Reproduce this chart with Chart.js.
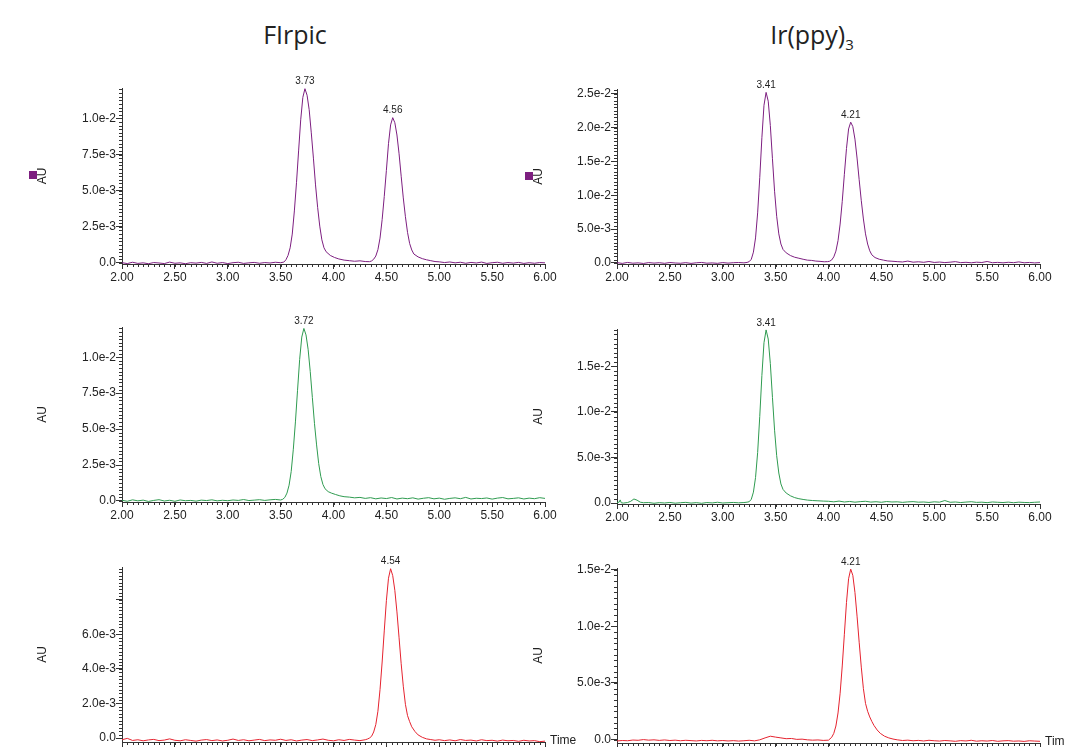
<!DOCTYPE html>
<html>
<head>
<meta charset="utf-8">
<script src="https://cdn.jsdelivr.net/npm/chart.js@4.4.1/dist/chart.umd.min.js"></script>
<style>
  body { margin: 0; background: #fff; width: 1065px; height: 747px; overflow: hidden; position: relative; }
  canvas { position: absolute; }
  .title { position: absolute; font-family: "Open Sans", "Noto Sans", sans-serif; font-size: 25px; color: #222; transform: translateX(-50%); white-space: nowrap; line-height: 1; }
  .title sub { font-size: 15px; vertical-align: -6px; }
</style>
</head>
<body>
<div class="title" style="left:295px; top:22px">FIrpic</div>
<div class="title" style="left:812px; top:22px">Ir(ppy)<sub>3</sub></div>
<canvas id="a"></canvas>
<canvas id="b"></canvas>
<canvas id="c"></canvas>
<canvas id="d"></canvas>
<canvas id="e"></canvas>
<canvas id="f"></canvas>
<script>
// retention time (min) and absorbance (mAU)

// FIrpic, top trace
const aTime = [2.00,2.05,2.10,2.15,2.20,2.25,2.30,2.35,2.40,2.45,2.50,2.55,2.60,2.65,2.70,2.75,2.80,2.85,2.90,2.95,3.00,3.05,3.10,3.15,3.20,3.25,3.30,3.35,3.40,3.45,3.50,
  3.53,3.55,3.57,3.59,3.61,3.63,3.65,3.67,3.69,3.71,3.73,3.75,3.77,3.79,3.81,3.83,3.85,3.87,3.89,3.91,3.93,3.97,4.01,4.05,4.10,4.15,4.20,4.25,4.30,4.34,
  4.36,4.38,4.40,4.42,4.44,4.46,4.48,4.50,4.52,4.54,4.56,4.58,4.60,4.62,4.64,4.66,4.68,4.70,4.72,4.74,4.76,4.80,4.84,4.88,4.92,4.96,
  5.00,5.05,5.10,5.15,5.20,5.25,5.30,5.35,5.40,5.45,5.50,5.55,5.60,5.65,5.70,5.75,5.80,5.85,5.90,5.95,6.00];
const aMilliAU = [0.02,-0.04,0.05,-0.03,0.01,-0.05,0.03,0.00,-0.04,0.06,-0.02,0.01,-0.05,0.02,-0.01,0.04,-0.03,0.07,-0.02,0.03,-0.04,0.02,0.05,-0.03,0.01,0.04,-0.02,0.03,0.00,0.05,0.02,
  0.06,0.22,0.52,1.05,2.0,3.6,5.55,7.75,9.9,11.45,12.05,11.6,10.6,9.0,7.25,5.4,3.85,2.55,1.6,1.05,0.78,0.52,0.38,0.28,0.2,0.16,0.12,0.15,0.1,0.09,
  0.14,0.26,0.48,0.92,1.72,3.0,4.6,6.4,8.25,9.55,10.05,9.7,8.85,7.55,6.0,4.5,3.2,2.12,1.35,0.9,0.62,0.42,0.3,0.22,0.16,0.1,
  0.08,0.03,0.07,0.01,0.05,-0.02,0.04,0.00,0.06,-0.03,0.02,0.05,-0.02,0.03,-0.01,0.04,-0.03,0.02,-0.02,0.03,0.01];
const aPeaks = [3.73, 4.56];
const aYTicks = [0, 0.0025, 0.005, 0.0075, 0.01];
const aYLabels = ['0.0', '2.5e-3', '5.0e-3', '7.5e-3', '1.0e-2'];

// FIrpic, middle trace
const bTime = [2.00,2.05,2.10,2.15,2.20,2.25,2.30,2.35,2.40,2.45,2.50,2.55,2.60,2.65,2.70,2.75,2.80,2.85,2.90,2.95,3.00,3.05,3.10,3.15,3.20,3.25,3.30,3.35,3.40,3.45,3.50,
  3.52,3.54,3.56,3.58,3.60,3.62,3.64,3.66,3.68,3.70,3.72,3.74,3.76,3.78,3.80,3.82,3.84,3.86,3.88,3.90,3.92,3.95,3.98,4.02,4.06,4.10,
  4.15,4.20,4.25,4.30,4.35,4.40,4.45,4.50,4.55,4.60,4.65,4.70,4.75,4.80,4.85,4.90,4.95,5.00,5.05,5.10,5.15,5.20,5.25,5.30,5.35,5.40,5.45,5.50,5.55,5.60,5.65,5.70,5.75,5.80,5.85,5.90,5.95,6.00];
const bMilliAU = [0.05,-0.02,0.08,0.01,0.06,-0.03,0.04,0.09,0.0,0.05,-0.02,0.07,0.02,0.04,-0.01,0.06,0.03,0.08,0.01,0.05,0.02,0.07,0.04,0.1,0.03,0.06,0.09,0.04,0.08,0.11,0.07,
  0.12,0.25,0.55,1.1,2.05,3.6,5.5,7.7,9.85,11.4,12.0,11.55,10.55,9.0,7.2,5.4,3.9,2.6,1.7,1.15,0.85,0.65,0.55,0.45,0.36,0.3,
  0.27,0.22,0.25,0.18,0.23,0.15,0.21,0.17,0.24,0.14,0.2,0.16,0.22,0.13,0.19,0.23,0.15,0.2,0.12,0.18,0.22,0.16,0.25,0.14,0.19,0.17,0.21,0.13,0.2,0.24,0.15,0.18,0.22,0.14,0.2,0.16,0.23,0.18];
const bPeaks = [3.72];
const bYTicks = [0, 0.0025, 0.005, 0.0075, 0.01];
const bYLabels = ['0.0', '2.5e-3', '5.0e-3', '7.5e-3', '1.0e-2'];

// FIrpic, bottom trace
const cTime = [2.00,2.05,2.10,2.15,2.20,2.25,2.30,2.35,2.40,2.45,2.50,2.55,2.60,2.65,2.70,2.75,2.80,2.85,2.90,2.95,3.00,3.05,3.10,3.15,3.20,3.25,3.30,3.35,3.40,3.45,3.50,3.55,3.60,3.65,3.70,3.75,3.80,3.85,3.90,3.95,4.00,4.05,4.10,4.15,4.20,4.25,4.30,
  4.32,4.34,4.36,4.38,4.40,4.42,4.44,4.46,4.48,4.50,4.52,4.54,4.56,4.58,4.60,4.62,4.64,4.66,4.68,4.70,4.72,4.74,4.77,4.80,4.84,4.88,
  4.92,4.96,5.00,5.05,5.10,5.15,5.20,5.25,5.30,5.35,5.40,5.45,5.50,5.55,5.60,5.65,5.70,5.75,5.80,5.85,5.90,5.95,6.00];
const cMilliAU = [-0.1,-0.02,-0.14,-0.1,-0.16,-0.11,-0.08,-0.15,-0.12,-0.05,-0.13,-0.16,-0.1,-0.14,-0.18,-0.12,-0.09,-0.15,-0.11,-0.17,-0.13,-0.06,-0.14,-0.1,-0.16,-0.12,-0.08,-0.15,-0.11,-0.13,-0.07,-0.14,-0.1,-0.17,-0.12,-0.09,-0.15,-0.11,-0.06,-0.13,-0.16,-0.1,-0.14,-0.08,-0.12,-0.15,-0.1,
  -0.06,0.0,0.1,0.35,0.78,1.55,2.8,4.4,6.2,7.95,9.25,9.8,9.4,8.55,7.3,5.8,4.3,3.0,1.95,1.3,0.95,0.65,0.38,0.18,0.04,-0.05,
  -0.09,-0.13,-0.1,-0.15,-0.11,-0.16,-0.09,-0.14,-0.12,-0.17,-0.1,-0.15,-0.13,-0.18,-0.12,-0.16,-0.14,-0.19,-0.13,-0.17,-0.15,-0.21,-0.18];
const cPeaks = [4.54];
const cYTicks = [0, 0.002, 0.004, 0.006, 0.008];
const cYLabels = ['0.0', '2.0e-3', '4.0e-3', '6.0e-3', ''];

// Ir(ppy)3, top trace
const dTime = [2.00,2.05,2.10,2.15,2.20,2.25,2.30,2.35,2.40,2.45,2.50,2.55,2.60,2.65,2.70,2.75,2.80,2.85,2.90,2.95,3.00,3.05,3.10,3.15,3.20,3.23,
  3.25,3.27,3.29,3.31,3.33,3.35,3.37,3.39,3.41,3.43,3.45,3.47,3.49,3.51,3.53,3.55,3.57,
  3.60,3.64,3.68,3.72,3.76,3.80,3.84,3.88,3.92,3.96,3.99,
  4.01,4.03,4.05,4.07,4.09,4.11,4.13,4.15,4.17,4.19,4.21,4.23,4.25,4.27,4.29,4.31,4.33,4.35,4.37,4.39,4.41,
  4.44,4.48,4.52,4.56,4.60,
  4.65,4.70,4.75,4.80,4.85,4.90,4.95,5.00,5.05,5.10,5.15,5.20,5.25,5.30,5.35,5.40,5.45,5.50,5.55,5.60,5.65,5.70,5.75,5.80,5.85,5.90,5.95,6.00];
const dMilliAU = [0.05,-0.06,0.08,-0.03,0.02,-0.07,0.06,-0.02,0.04,-0.05,0.07,0.0,-0.04,0.05,-0.06,0.03,0.08,-0.03,0.01,-0.05,0.06,-0.02,0.04,0.07,0.02,0.08,
  0.2,0.55,1.6,3.7,7.4,12.6,18.5,23.3,25.2,23.9,20.3,15.4,10.6,6.9,4.3,2.8,2.0,
  1.5,1.1,0.85,0.7,0.55,0.42,0.38,0.28,0.24,0.18,0.2,
  0.25,0.45,0.9,1.75,3.3,5.75,9.1,13.1,16.9,19.8,20.8,20.15,18.3,15.5,12.3,9.2,6.5,4.3,2.8,1.8,1.2,
  0.8,0.55,0.42,0.3,0.26,
  0.2,0.15,0.28,0.12,0.18,0.1,0.22,0.08,0.14,0.06,0.12,0.2,0.05,0.1,0.03,0.12,0.07,0.22,0.04,0.09,0.02,0.1,0.05,0.16,0.03,0.08,0.01,0.06];
const dPeaks = [3.41, 4.21];
const dYTicks = [0, 0.005, 0.01, 0.015, 0.02, 0.025];
const dYLabels = ['0.0', '5.0e-3', '1.0e-2', '1.5e-2', '2.0e-2', '2.5e-2'];

// Ir(ppy)3, middle trace
const eTime = [2.00,2.02,2.03,2.04,2.06,2.10,2.13,2.16,2.19,2.22,2.25,
  2.30,2.35,2.40,2.45,2.50,2.55,2.60,2.65,2.70,2.75,2.80,2.85,2.90,2.95,3.00,3.05,3.10,3.15,3.20,3.23,
  3.25,3.27,3.29,3.31,3.33,3.35,3.37,3.39,3.41,3.43,3.45,3.47,3.49,3.51,3.53,3.55,3.57,
  3.60,3.64,3.68,3.72,3.76,3.80,3.85,3.90,3.95,
  4.00,4.05,4.10,4.15,4.20,4.25,4.30,4.35,4.40,4.45,4.50,4.55,4.60,4.65,4.70,4.75,4.80,4.85,4.90,4.95,5.00,5.05,5.10,5.15,5.20,5.25,5.30,5.35,5.40,5.45,5.50,5.55,5.60,5.65,5.70,5.75,5.80,5.85,5.90,5.95,6.00];
const eMilliAU = [0.05,0.1,0.35,0.04,0.0,0.06,0.2,0.45,0.32,0.1,0.04,
  0.06,-0.02,0.05,0.01,0.07,-0.01,0.04,0.08,0.0,0.05,-0.02,0.06,0.02,0.09,0.01,0.04,0.07,0.03,0.06,0.1,
  0.15,0.42,1.2,2.8,5.55,9.5,14.0,17.6,19.0,18.0,15.3,11.6,8.0,5.2,3.3,2.1,1.5,
  1.1,0.8,0.6,0.48,0.4,0.33,0.28,0.25,0.22,
  0.2,0.14,0.22,0.12,0.18,0.1,0.16,0.2,0.11,0.15,0.09,0.17,0.12,0.14,0.08,0.13,0.16,0.1,0.12,0.07,0.14,0.1,0.28,0.09,0.12,0.06,0.11,0.15,0.08,0.1,0.05,0.12,0.09,0.06,0.11,0.04,0.1,0.07,0.05,0.09,0.12];
const ePeaks = [3.41];
const eYTicks = [0, 0.005, 0.01, 0.015];
const eYLabels = ['0.0', '5.0e-3', '1.0e-2', '1.5e-2'];

// Ir(ppy)3, bottom trace
const fTime = [2.00,2.05,2.10,2.15,2.20,2.25,2.30,2.35,2.40,2.45,2.50,2.55,2.60,2.65,2.70,2.75,2.80,2.85,2.90,2.95,3.00,3.05,3.10,3.15,3.20,3.25,3.30,3.35,3.40,3.45,3.50,3.55,3.60,3.65,3.70,3.75,3.80,3.85,3.90,3.95,4.00,
  4.03,4.05,4.07,4.09,4.11,4.13,4.15,4.17,4.19,4.21,4.23,4.25,4.27,4.29,4.31,4.33,4.35,4.37,4.39,4.41,4.43,
  4.46,4.49,4.53,4.57,4.61,
  4.65,4.70,4.75,4.80,4.85,4.90,4.95,5.00,5.05,5.10,5.15,5.20,5.25,5.30,5.35,5.40,5.45,5.50,5.55,5.60,5.65,5.70,5.75,5.80,5.85,5.90,5.95,6.00];
const fMilliAU = [-0.12,-0.08,-0.1,-0.04,-0.06,0.0,-0.05,-0.02,-0.07,-0.03,-0.08,-0.05,-0.1,-0.06,-0.09,-0.12,-0.07,-0.1,-0.06,-0.11,
  -0.08,-0.12,-0.09,-0.13,-0.1,-0.06,-0.11,-0.02,0.15,0.3,0.22,0.15,0.08,0.1,0.02,0.04,-0.02,-0.05,-0.03,-0.07,-0.05,
  0.2,0.55,1.2,2.35,4.1,6.5,9.3,12.1,14.2,15.05,14.5,13.0,10.9,8.6,6.4,4.5,3.2,2.5,2.0,1.6,1.25,
  0.85,0.55,0.3,0.15,0.05,
  -0.02,-0.08,-0.05,-0.1,-0.07,-0.12,-0.06,-0.1,-0.13,-0.08,-0.11,-0.15,-0.09,-0.12,-0.06,-0.14,-0.1,-0.13,-0.08,-0.15,-0.11,-0.09,-0.14,-0.12,-0.16,-0.1,-0.13,-0.15];
const fPeaks = [4.21];
const fYTicks = [0, 0.005, 0.01, 0.015];
const fYLabels = ['0.0', '5.0e-3', '1.0e-2', '1.5e-2'];

const xTicks = [2.0, 2.5, 3.0, 3.5, 4.0, 4.5, 5.0, 5.5, 6.0];

const PURPLE = '#7d1f80';
const GREEN = '#2f9b50';
const RED = '#e5232f';
const AXIS = '#333';
const TEXT = '#222';
const FONT = '"Liberation Sans", Arial, sans-serif';
const PAD_TOP = 22;
const X_AXIS_H = 30;

const panels = [
  { id: 'a', t: aTime, v: aMilliAU, peaks: aPeaks, yTicks: aYTicks, yLabels: aYLabels, color: PURPLE, yMin: -0.07, yMax: 12.1, minor: 0.25, col: 0, top: 88, bottom: 264, marker: true },
  { id: 'b', t: bTime, v: bMilliAU, peaks: bPeaks, yTicks: bYTicks, yLabels: bYLabels, color: GREEN, yMin: -0.07, yMax: 12.1, minor: 0.25, col: 0, top: 327, bottom: 502 },
  { id: 'c', t: cTime, v: cMilliAU, peaks: cPeaks, yTicks: cYTicks, yLabels: cYLabels, color: RED, yMin: -0.23, yMax: 9.9, minor: 0.2, col: 0, top: 567, bottom: 742, time: true },
  { id: 'd', t: dTime, v: dMilliAU, peaks: dPeaks, yTicks: dYTicks, yLabels: dYLabels, color: PURPLE, yMin: -0.15, yMax: 25.7, minor: 0.5, col: 1, top: 89, bottom: 264, marker: true },
  { id: 'e', t: eTime, v: eMilliAU, peaks: ePeaks, yTicks: eYTicks, yLabels: eYLabels, color: GREEN, yMin: -0.1, yMax: 19.1, minor: 0.5, col: 1, top: 329, bottom: 504 },
  { id: 'f', t: fTime, v: fMilliAU, peaks: fPeaks, yTicks: fYTicks, yLabels: fYLabels, color: RED, yMin: -0.3, yMax: 15.15, minor: 0.5, col: 1, top: 568, bottom: 743, time: true }
];

// canvas left edge, left padding, y axis width, plot right edge, right padding
const columns = [
  { left: 20, padLeft: 15, yWidth: 87, right: 545, padRight: 40 },
  { left: 515, padLeft: 16, yWidth: 86, right: 1040, padRight: 25 }
];

const chromoPlugin = {
  id: 'chromo',
  afterDraw(chart, args, o) {
    const { ctx, chartArea, scales: { x, y } } = chart;
    const p = o.panel;
    ctx.save();
    ctx.strokeStyle = AXIS;
    ctx.lineWidth = 1;
    ctx.beginPath();
    // minor ticks on the time axis
    for (let k = 0; k <= 80; k++) {
      const px = Math.round(x.getPixelForValue(2 + k * 0.05)) + 0.5;
      ctx.moveTo(px, chartArea.bottom);
      ctx.lineTo(px, chartArea.bottom + 3);
    }
    // minor ticks on the absorbance axis
    for (let k = 0; k * p.minor <= p.yMax; k++) {
      const py = Math.round(y.getPixelForValue(k * p.minor / 1000)) + 0.5;
      ctx.moveTo(chartArea.left, py);
      ctx.lineTo(chartArea.left - 3, py);
    }
    ctx.stroke();

    // retention time labels above peaks
    ctx.fillStyle = TEXT;
    ctx.font = '10px ' + FONT;
    ctx.textAlign = 'center';
    ctx.textBaseline = 'bottom';
    p.peaks.forEach(tp => {
      const i = p.t.indexOf(tp);
      ctx.fillText(tp.toFixed(2), x.getPixelForValue(tp), y.getPixelForValue(p.v[i] / 1000) - 2);
    });

    if (p.marker) {
      const cy = (chartArea.top + chartArea.bottom) / 2;
      ctx.fillStyle = p.color;
      ctx.fillRect(y.left - 6, Math.round(cy - 5), 8, 8);
    }
    if (p.time) {
      ctx.fillStyle = TEXT;
      ctx.font = '12px ' + FONT;
      ctx.textAlign = 'left';
      ctx.textBaseline = 'middle';
      ctx.fillText('Time', chartArea.right + 5, chartArea.bottom - 1);
    }
    ctx.restore();
  }
};

function makeChart(p) {
  const c = columns[p.col];
  const h = p.bottom - p.top;
  const cv = document.getElementById(p.id);
  cv.width = c.right - c.left + c.padRight;
  cv.height = PAD_TOP + h + X_AXIS_H;
  cv.style.left = c.left + 'px';
  cv.style.top = (p.top - PAD_TOP) + 'px';

  new Chart(cv, {
    type: 'line',
    data: {
      datasets: [{
        data: p.t.map((t, i) => ({ x: t, y: p.v[i] / 1000 })),
        borderColor: p.color,
        borderWidth: 1,
        pointRadius: 0,
        tension: 0,
        fill: false
      }]
    },
    options: {
      responsive: false,
      animation: false,
      events: [],
      layout: { padding: { left: c.padLeft, right: c.padRight, top: PAD_TOP, bottom: 0 } },
      plugins: {
        legend: { display: false },
        tooltip: { enabled: false },
        chromo: { panel: p }
      },
      scales: {
        x: {
          type: 'linear',
          min: 2,
          max: 6,
          afterBuildTicks: s => { s.ticks = xTicks.map(v => ({ value: v })); },
          afterFit: s => { s.height = X_AXIS_H; },
          ticks: { callback: v => v.toFixed(2), font: { family: FONT, size: 12 }, color: TEXT, padding: 1, maxRotation: 0, autoSkip: false },
          grid: { drawOnChartArea: false, tickLength: 5, color: AXIS },
          border: { color: AXIS }
        },
        y: {
          min: p.yMin / 1000,
          max: p.yMax / 1000,
          afterBuildTicks: s => { s.ticks = p.yTicks.map(v => ({ value: v })); },
          afterFit: s => { s.width = c.yWidth; },
          ticks: { callback: (v, i) => p.yLabels[i], font: { family: FONT, size: 12 }, color: TEXT, padding: 0, autoSkip: false },
          grid: { drawOnChartArea: false, tickLength: 6, color: AXIS },
          border: { color: AXIS },
          title: { display: true, text: 'AU', font: { family: FONT, size: 12 }, color: TEXT, padding: 0 }
        }
      }
    },
    plugins: [chromoPlugin]
  });
}

panels.forEach(makeChart);
</script>
</body>
</html>
